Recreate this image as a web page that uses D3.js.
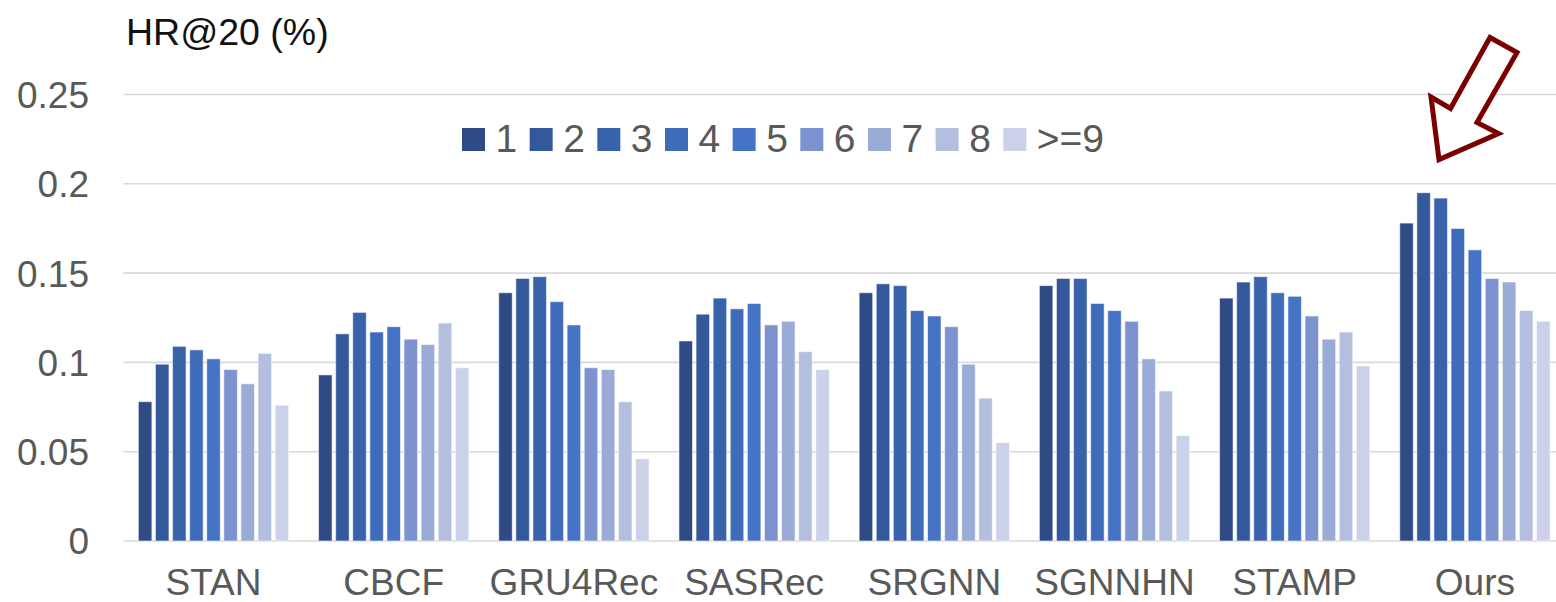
<!DOCTYPE html>
<html>
<head>
<meta charset="utf-8">
<script src="https://cdn.jsdelivr.net/npm/d3@7"></script>
<style>
  html, body { margin: 0; padding: 0; background: #fff; }
  svg { display: block; font-family: Arial, "Liberation Sans", sans-serif; }
</style>
</head>
<body>
<svg id="chart" width="1556" height="602"></svg>
<script>
// Methods on the x axis
const categories = ["STAN", "CBCF", "GRU4Rec", "SASRec", "SRGNN", "SGNNHN", "STAMP", "Ours"];
// Session-length buckets (one bar per bucket inside each method group)
const seriesNames = ["1", "2", "3", "4", "5", "6", "7", "8", ">=9"];
const seriesColors = ["#2e4b86", "#33599c", "#3862aa", "#3e6bba", "#4573c6",
                      "#7c93cf", "#9aabd7", "#b4bfdf", "#cbd1e8"];

// HR@20 per bucket, one array per method
const hrSTAN    = [0.078, 0.099, 0.109, 0.107, 0.102, 0.096, 0.088, 0.105, 0.076];
const hrCBCF    = [0.093, 0.116, 0.128, 0.117, 0.120, 0.113, 0.110, 0.122, 0.097];
const hrGRU4Rec = [0.139, 0.147, 0.148, 0.134, 0.121, 0.097, 0.096, 0.078, 0.046];
const hrSASRec  = [0.112, 0.127, 0.136, 0.130, 0.133, 0.121, 0.123, 0.106, 0.096];
const hrSRGNN   = [0.139, 0.144, 0.143, 0.129, 0.126, 0.120, 0.099, 0.080, 0.055];
const hrSGNNHN  = [0.143, 0.147, 0.147, 0.133, 0.129, 0.123, 0.102, 0.084, 0.059];
const hrSTAMP   = [0.136, 0.145, 0.148, 0.139, 0.137, 0.126, 0.113, 0.117, 0.098];
const hrOurs    = [0.178, 0.195, 0.192, 0.175, 0.163, 0.147, 0.145, 0.129, 0.123];

// Y axis ticks
const yTicks = [0, 0.05, 0.1, 0.15, 0.2, 0.25];
const yTickLabels = ["0", "0.05", "0.1", "0.15", "0.2", "0.25"];
const yTitle = "HR@20 (%)";

const rows = [hrSTAN, hrCBCF, hrGRU4Rec, hrSASRec, hrSRGNN, hrSGNNHN, hrSTAMP, hrOurs];
const table = categories.map((c, i) => ({
  category: c,
  values: seriesNames.map((s, j) => ({ series: s, idx: j, value: rows[i][j] }))
}));

const svg = d3.select("#chart");
const plotLeft = 123.4, plotRight = 1565, plotTop = 94.5, plotBottom = 541;

const x0 = d3.scaleBand().domain(categories).range([plotLeft, plotRight])
  .paddingInner(0).paddingOuter(0);
const x1 = d3.scaleBand().domain(seriesNames).range([0, x0.bandwidth()])
  .paddingInner(0.21).paddingOuter(0.875);
const y = d3.scaleLinear().domain([0, 0.25]).range([plotBottom, plotTop]);

// Horizontal gridlines
svg.append("g").selectAll("line").data(yTicks).join("line")
  .attr("x1", plotLeft).attr("x2", plotRight)
  .attr("y1", d => y(d)).attr("y2", d => y(d))
  .attr("stroke", "#d9d9d9").attr("stroke-width", 1.6);

// Y axis labels
const yAxis = d3.axisLeft(y).tickValues(yTicks)
  .tickFormat((d, i) => yTickLabels[i]).tickSize(0).tickPadding(0);
const gy = svg.append("g").attr("transform", "translate(89,0)").call(yAxis);
gy.select(".domain").remove();
gy.selectAll("text").attr("font-size", 37).attr("fill", "#595959")
  .attr("font-family", "Arial, 'Liberation Sans', sans-serif").attr("dy", "0.35em");

// Y axis title
svg.append("text").attr("x", 126).attr("y", 45)
  .attr("font-size", 37.5).attr("fill", "#111").text(yTitle);

// Bars
const groups = svg.append("g").selectAll("g").data(table).join("g")
  .attr("transform", d => `translate(${x0(d.category)},0)`);
groups.selectAll("rect").data(d => d.values).join("rect")
  .attr("x", d => x1(d.series))
  .attr("width", x1.bandwidth())
  .attr("y", d => y(d.value))
  .attr("height", d => y(0) - y(d.value))
  .attr("fill", d => seriesColors[d.idx])
  .attr("stroke", "#ffffff").attr("stroke-opacity", 0.55).attr("stroke-width", 1);

// X axis category labels
const xAxis = d3.axisBottom(x0).tickSize(0).tickPadding(0);
const gx = svg.append("g").attr("transform", "translate(0,595)").call(xAxis);
gx.select(".domain").remove();
gx.selectAll("text").attr("font-size", 37).attr("fill", "#595959")
  .attr("font-family", "Arial, 'Liberation Sans', sans-serif").attr("dy", 0);

// Legend
const legendX = d3.scalePoint().domain(seriesNames).range([462, 1003.3]);
const legend = svg.append("g").selectAll("g").data(seriesNames).join("g")
  .attr("transform", d => `translate(${legendX(d)},0)`);
legend.append("rect").attr("x", 0).attr("y", 128).attr("width", 23).attr("height", 23)
  .attr("fill", (d, i) => seriesColors[i]);
legend.append("text").attr("x", 33.5).attr("y", 151.5)
  .attr("font-size", 39).attr("fill", "#595959").text(d => d);

// Outlined arrow pointing at the proposed method
const arrowPts = [[1490, 37.5], [1517, 52.5], [1477, 122.5], [1498.5, 133.5],
                  [1439, 159.5], [1431, 97], [1450.5, 108.5]];
svg.append("path")
  .attr("d", d3.line()(arrowPts) + "Z")
  .attr("fill", "#fff").attr("stroke", "#7a0000")
  .attr("stroke-width", 5).attr("stroke-linejoin", "miter");
</script>
</body>
</html>
